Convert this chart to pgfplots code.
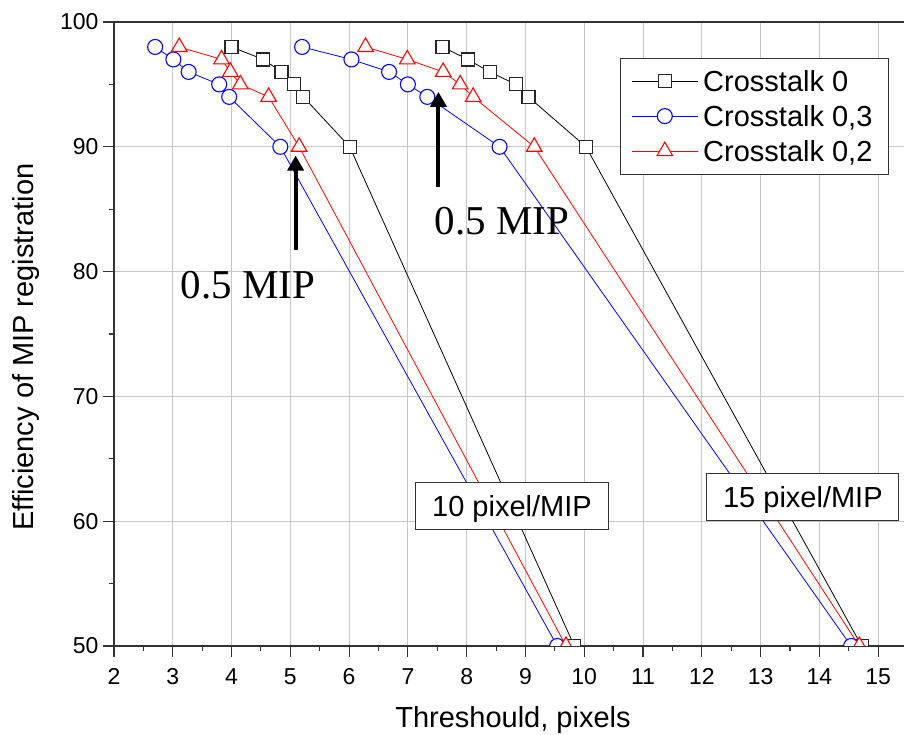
\documentclass[border=0pt]{standalone}
\usepackage{pgfplots}
\pgfplotsset{compat=1.18}
\usepackage{fontspec}
\setmainfont{Liberation Sans}
\newfontfamily\timesfont{Liberation Serif}
\usetikzlibrary{arrows.meta}
\begin{document}
\begin{tikzpicture}
\begin{axis}[
  scale only axis, width=790pt, height=624pt,
  xmin=2, xmax=15.44, ymin=50, ymax=100,
  axis x line=box, axis y line=left,
  y axis line style={-}, x axis line style={-},
  axis line style={black!80, line width=1.2pt},
  xtick={2,...,15}, ytick={50,60,70,80,90,100},
  minor x tick num=1, minor y tick num=1,
  xtick pos=left, ytick pos=left,
  tick align=outside,
  major tick length=11pt, minor tick length=5pt,
  tick style={black!80, line width=1.1pt},
  grid=major, major grid style={gray!45, line width=0.9pt},
  /pgf/number format/assume math mode=true,
  ticklabel style={font=\fontsize{23}{26}\selectfont},
  xticklabel style={yshift=-8pt},
  yticklabel style={xshift=-1pt},
  xlabel={Threshould, pixels},
  ylabel={Efficiency of MIP registration},
  label style={font=\fontsize{29}{33}\selectfont, inner sep=0pt},
  xlabel style={at={(axis description cs:0.505,0)}, anchor=north, yshift=-60pt},
  ylabel style={at={(axis description cs:-0.129,0.479)}, rotate=0, anchor=north},
  clip marker paths=true,
  legend cell align=left,
  legend style={at={(rel axis cs:0.981,0.943)}, anchor=north east,
    font=\fontsize{29}{33}\selectfont, draw=black!80, line width=1.1pt,
    inner xsep=11pt, inner ysep=8pt, row sep=5pt,
    nodes={text height=23pt, text depth=3pt, inner ysep=2pt, inner xsep=5pt}},
  legend image code/.code={\draw[mark repeat=2,mark phase=2] plot coordinates {(0pt,0pt) (33pt,0pt) (66pt,0pt)};},
]
\coordinate (ll) at (rel axis cs:0,0);
\addplot[black, line width=0.8pt, mark=square*, mark size=6.5pt,
  mark options={draw=black!85, fill=white, line width=1.2pt}] coordinates {
  (4.00,98) (4.54,97) (4.85,96) (5.06,95) (5.22,94) (6.01,90) (9.83,50)};
\addlegendentry{Crosstalk 0}
\addplot[blue, line width=0.8pt, mark=*, mark size=7.5pt,
  mark options={draw=blue, fill=white, line width=1.1pt}] coordinates {
  (2.70,98) (3.01,97) (3.27,96) (3.79,95) (3.96,94) (4.83,90) (9.54,50)};
\addlegendentry{Crosstalk 0,3}
\addplot[red, line width=0.8pt, mark=triangle*, mark size=9pt,
  mark options={draw=red, fill=white, line width=1.1pt}] coordinates {
  (3.11,98) (3.83,97) (3.98,96) (4.15,95) (4.63,94) (5.15,90) (9.69,50)};
\addlegendentry{Crosstalk 0,2}
\addplot[black, line width=0.8pt, mark=square*, mark size=6.5pt,
  mark options={draw=black!85, fill=white, line width=1.2pt}, forget plot] coordinates {
  (7.59,98) (8.02,97) (8.39,96) (8.84,95) (9.05,94) (10.03,90) (14.72,50)};
\addplot[blue, line width=0.8pt, mark=*, mark size=7.5pt,
  mark options={draw=blue, fill=white, line width=1.1pt}, forget plot] coordinates {
  (5.20,98) (6.04,97) (6.68,96) (7.00,95) (7.33,94) (8.56,90) (14.54,50)};
\addplot[red, line width=0.8pt, mark=triangle*, mark size=9pt,
  mark options={draw=red, fill=white, line width=1.1pt}, forget plot] coordinates {
  (6.28,98) (6.99,97) (7.60,96) (7.89,95) (8.11,94) (9.15,90) (14.68,50)};
\draw[line width=4pt, -{Triangle[length=15pt, width=16pt]}] (axis cs:5.09,81.7) -- (axis cs:5.09,89.3);
\draw[line width=4pt, -{Triangle[length=15pt, width=16pt]}] (axis cs:7.52,86.8) -- (axis cs:7.52,94.4);
\node[font=\timesfont\fontsize{41}{41}\selectfont] at (axis cs:4.275,78.9) {0.5 MIP};
\node[font=\timesfont\fontsize{41}{41}\selectfont] at (axis cs:8.60,84.07) {0.5 MIP};
\node[draw=black!80, line width=1.1pt, fill=white, font=\fontsize{29}{33}\selectfont,
  minimum width=193pt, minimum height=47pt, text height=21pt, text depth=0pt, inner sep=0pt]
  at (axis cs:8.77,61.22) {10 pixel/MIP};
\node[draw=black!80, line width=1.1pt, fill=white, font=\fontsize{29}{33}\selectfont,
  minimum width=192pt, minimum height=47pt, text height=21pt, text depth=0pt, inner sep=0pt]
  at (axis cs:13.72,61.94) {15 pixel/MIP};
\end{axis}
\pgfresetboundingbox
\path (ll) ++(-114pt,-89pt) rectangle ++(904pt,735pt);
\end{tikzpicture}
\end{document}
